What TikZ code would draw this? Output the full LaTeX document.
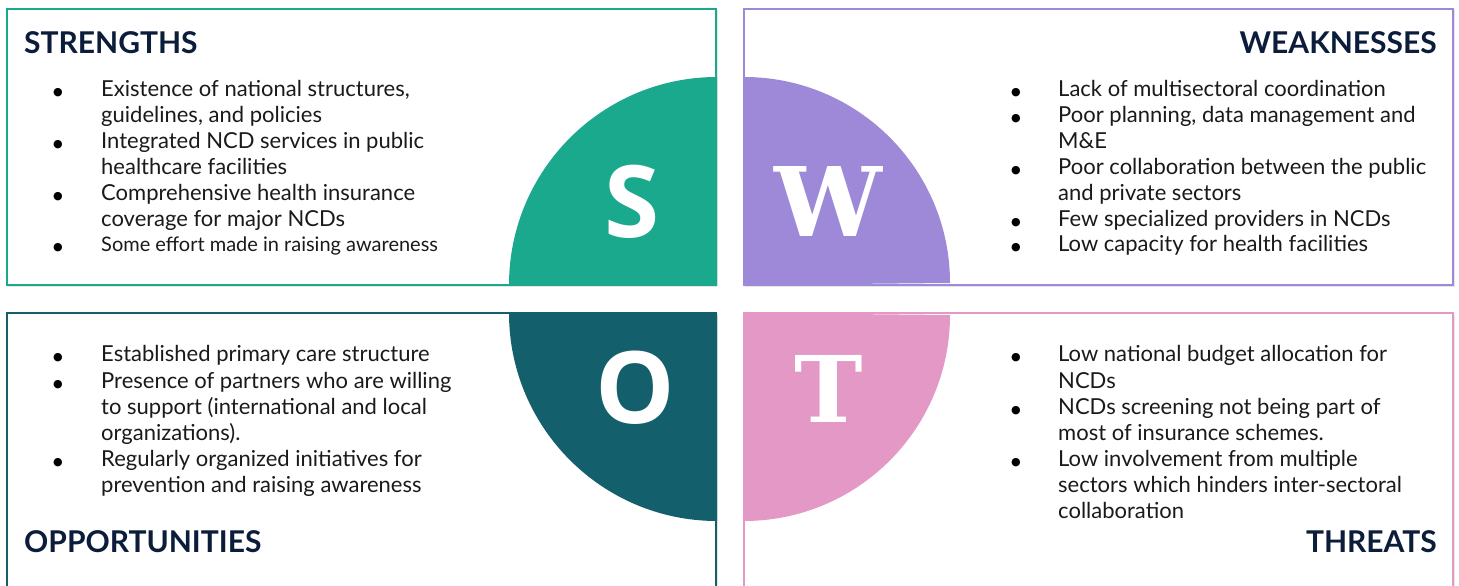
\documentclass[tikz,border=0pt]{standalone}
\usepackage{fontspec}
\setmainfont{Lato}
\newfontfamily\titlefont{Lato}
\newfontfamily\bulfont{DejaVu Sans}
\newfontfamily\bigsans{Open Sans}
\newfontfamily\slabfont{DejaVu Serif}
\definecolor{colS}{HTML}{1AA98C}
\definecolor{colW}{HTML}{9E88D8}
\definecolor{colO}{HTML}{135F6B}
\definecolor{colT}{HTML}{E398C5}
\definecolor{navy}{HTML}{0B1D3A}
\definecolor{txt}{HTML}{1A1A1A}
\tikzset{
  body/.style={inner sep=0pt, anchor=base west, text=txt, font=\fontsize{22}{26}\selectfont},
  bul/.style={inner sep=0pt, anchor=base, text=black, font=\bulfont\fontsize{11}{13}\selectfont},
  ttl/.style={inner sep=0pt, text=navy, font=\titlefont\bfseries\fontsize{30}{34}\selectfont},
  bigletter/.style={inner sep=0pt, text=white},
  boxshadow/.style={fill=black!10},
}
\newcommand{\tline}[4]{\node[body] (#1) at (#2,#3-2) {#4};}
\newcommand{\tbul}[3]{\node[bul] (#1) at (#2,#3-1) {●};}
\begin{document}
\begin{tikzpicture}[x=1pt,y=1pt]
\useasboundingbox (0,0) rectangle (1459,586);
\fill[white] (0,0) rectangle (1459,586);
\clip (0,0) rectangle (1459,586);
% shadows
\fill[boxshadow] (8,299) rectangle (718,576);
\fill[boxshadow] (745,299) rectangle (1455,576);
\fill[boxshadow] (8,-20) rectangle (718,271);
\fill[boxshadow] (745,-20) rectangle (1455,271);
% boxes background
\fill[white] (7,301) rectangle (716,577);
\fill[white] (744,301) rectangle (1453,577);
\fill[white] (7,-20) rectangle (716,273);
\fill[white] (744,-20) rectangle (1453,273);
% quarter circles
\fill[colS] (509,301) arc[start angle=180,end angle=90,radius=208] -- (717,301) -- cycle;
\fill[colW] (744,509) arc[start angle=90,end angle=0,radius=206] -- (744,301) -- cycle;
\fill[colO] (509,273) arc[start angle=180,end angle=270,radius=208] -- (717,273) -- cycle;
\fill[colT] (744,65) arc[start angle=270,end angle=360,radius=206] -- (744,273) -- cycle;
% box borders
\draw[colS, line width=1.6pt] (7,301) rectangle (716,577);
\draw[colW, line width=1.6pt] (744,301) rectangle (1453,577);
\draw[colO, line width=1.6pt] (7,-20) rectangle (716,273);
\draw[colT, line width=1.6pt] (744,-20) rectangle (1453,273);
% big letters
\node[bigletter, font=\bigsans\bfseries\fontsize{100}{100}\selectfont] (S) at (632,384) {S};
\node[bigletter, font=\slabfont\bfseries\fontsize{96}{96}\selectfont] (W) at (828,384) {W};
\node[bigletter, font=\bigsans\bfseries\fontsize{100}{100}\selectfont] (O) at (635,198) {O};
\node[bigletter, font=\slabfont\bfseries\fontsize{92}{92}\selectfont] (T) at (829,197) {T};
% titles
\node[ttl, anchor=base west] (ts) at (24,532) {STRENGTHS};
\node[ttl, anchor=base east] (tw) at (1437,532) {WEAKNESSES};
\node[ttl, anchor=base west] (to) at (24,33) {OPPORTUNITIES};
\node[ttl, anchor=base east] (tt) at (1437,33) {THREATS};
% strengths
\tbul{sb1}{58}{491}\tline{s1}{101}{491}{Existence of national structures,}
\tline{s2}{101}{465}{guidelines, and policies}
\tbul{sb2}{58}{439}\tline{s3}{101}{439}{Integrated NCD services in public}
\tline{s4}{101}{413}{healthcare facilities}
\tbul{sb3}{58}{387}\tline{s5}{101}{387}{Comprehensive health insurance}
\tline{s6}{101}{361}{coverage for major NCDs}
\tbul{sb4}{58}{336}\node[body, font=\fontsize{20}{24}\selectfont] (s7) at (101,334) {Some effort made in raising awareness};
% weaknesses
\tbul{wb1}{1016}{491}\tline{w1}{1058}{491}{Lack of multisectoral coordination}
\tbul{wb2}{1016}{465}\tline{w2}{1058}{465}{Poor planning, data management and}
\tline{w3}{1058}{439}{M\&E}
\tbul{wb3}{1016}{413}\tline{w4}{1058}{413}{Poor collaboration between the public}
\tline{w5}{1058}{387}{and private sectors}
\tbul{wb4}{1016}{361}\tline{w6}{1058}{361}{Few specialized providers in NCDs}
\tbul{wb5}{1016}{336}\tline{w7}{1058}{336}{Low capacity for health facilities}
% opportunities
\tbul{ob1}{58}{226}\tline{o1}{101}{226}{Established primary care structure}
\tbul{ob2}{58}{199}\tline{o2}{101}{199}{Presence of partners who are willing}
\tline{o3}{101}{173}{to support (international and local}
\tline{o4}{101}{147}{organizations).}
\tbul{ob3}{58}{121}\tline{o5}{101}{121}{Regularly organized initiatives for}
\tline{o6}{101}{95}{prevention and raising awareness}
% threats
\tbul{tb1}{1016}{226}\tline{t1}{1058}{226}{Low national budget allocation for}
\tline{t2}{1058}{199}{NCDs}
\tbul{tb2}{1016}{173}\tline{t3}{1058}{173}{NCDs screening not being part of}
\tline{t4}{1058}{147}{most of insurance schemes.}
\tbul{tb3}{1016}{121}\tline{t5}{1058}{121}{Low involvement from multiple}
\tline{t6}{1058}{95}{sectors which hinders inter-sectoral}
\tline{t7}{1058}{69}{collaboration}
\end{tikzpicture}
\end{document}
